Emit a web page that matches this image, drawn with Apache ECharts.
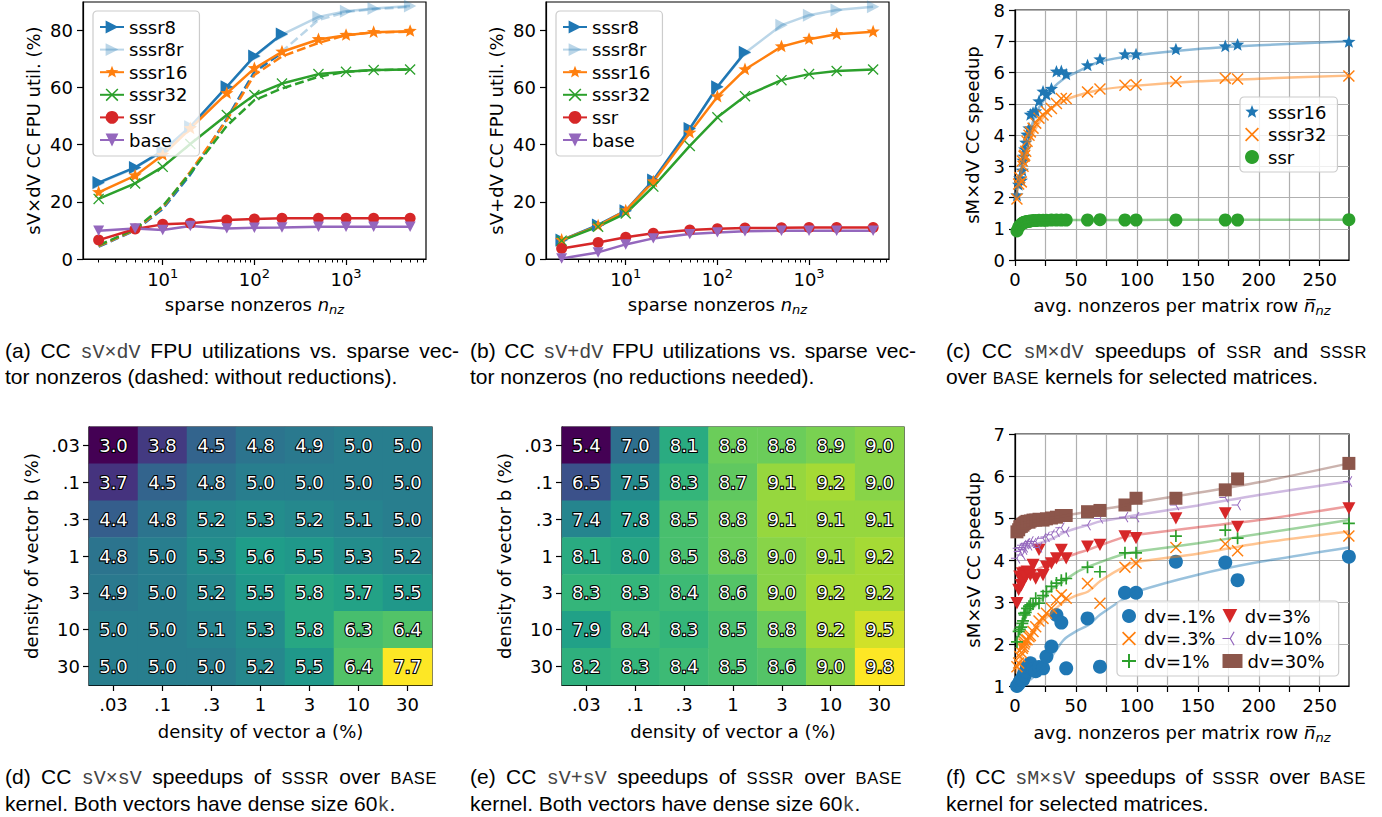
<!DOCTYPE html>
<html>
<head>
<meta charset="utf-8">
<script src="https://cdn.jsdelivr.net/npm/echarts@6/dist/echarts.min.js"></script>
<style>
html,body{margin:0;padding:0;background:#fff;}
#chart{position:absolute;left:0;top:0;width:1382px;height:817px;}
.cap{position:absolute;font-family:'Liberation Sans',Arial,sans-serif;font-size:21px;color:#000;line-height:24px;}
.cap .l1{text-align:justify;text-align-last:justify;}
.cap .l2{white-space:nowrap;}
.tt{font-family:'Liberation Mono',monospace;color:#444;font-size:20px;}
.sc{font-size:16.5px;letter-spacing:0.6px;}
</style>
</head>
<body>
<div id="chart"></div>

<div class="cap" style="left:5px;top:339px;width:454px;">
  <div class="l1">(a) CC <span class="tt">sV×dV</span> FPU utilizations vs. sparse vec-</div>
  <div class="l2">tor nonzeros (dashed: without reductions).</div>
</div>
<div class="cap" style="left:470px;top:339px;width:446px;">
  <div class="l1">(b) CC <span class="tt">sV+dV</span> FPU utilizations vs. sparse vec-</div>
  <div class="l2">tor nonzeros (no reductions needed).</div>
</div>
<div class="cap" style="left:946px;top:339px;width:421px;">
  <div class="l1">(c) CC <span class="tt">sM×dV</span> speedups of <span class="sc">SSR</span> and <span class="sc">SSSR</span></div>
  <div class="l2">over <span class="sc">BASE</span> kernels for selected matrices.</div>
</div>
<div class="cap" style="left:5px;top:764px;width:432px;line-height:25px;">
  <div class="l1">(d) CC <span class="tt">sV×sV</span> speedups of <span class="sc">SSSR</span> over <span class="sc">BASE</span></div>
  <div class="l2">kernel. Both vectors have dense size 60<span class="tt">k</span>.</div>
</div>
<div class="cap" style="left:470px;top:764px;width:432px;line-height:25px;">
  <div class="l1">(e) CC <span class="tt">sV+sV</span> speedups of <span class="sc">SSSR</span> over <span class="sc">BASE</span></div>
  <div class="l2">kernel. Both vectors have dense size 60<span class="tt">k</span>.</div>
</div>
<div class="cap" style="left:946px;top:764px;width:420px;line-height:25px;">
  <div class="l1">(f) CC <span class="tt">sM×sV</span> speedups of <span class="sc">SSSR</span> over <span class="sc">BASE</span></div>
  <div class="l2">kernel for selected matrices.</div>
</div>

<script>
// ---------------- DATA ----------------
// (a)/(b): sparse nonzeros (x)
const nnz = [2, 5, 10, 20, 50, 100, 200, 500, 1000, 2000, 5000];
// (a) sV x dV FPU utilization (%)
const a_sssr8  = [26.7, 32.0, 37.8, 46.2, 60.2, 70.9, 78.6];
const a_sssr8r = [26.5, 31.8, 37.6, 46.4, 60.0, 70.7, 78.4, 84.6, 86.6, 87.5, 88.4];
const a_sssr16 = [23.3, 29.1, 36.3, 45.6, 57.9, 66.6, 72.4, 76.7, 78.2, 79.2, 79.6];
const a_sssr32 = [21.0, 26.4, 32.2, 40.2, 50.3, 57.3, 61.3, 64.6, 65.4, 66.0, 66.2];
const a_ssr    = [6.6, 10.5, 12.1, 12.5, 13.6, 14.0, 14.2, 14.2, 14.2, 14.2, 14.2];
const a_base   = [9.9, 10.7, 10.1, 11.5, 10.7, 10.9, 11.0, 11.3, 11.3, 11.3, 11.3];
// (a) dashed: without reductions
const a_sssr8_nored  = [4.3, 10.0, 17.5, 29.5, 49.0, 65.4, 72.0];
const a_sssr8r_nored = [4.3, 10.0, 17.5, 29.5, 49.0, 65.4, 72.5, 83.5, 86.3, 87.3, 88.1];
const a_sssr16_nored = [4.5, 10.2, 18.0, 30.5, 48.5, 64.3, 70.8, 75.5, 78.2, 79.2, 79.4];
const a_sssr32_nored = [4.8, 10.4, 18.5, 30.0, 46.5, 55.5, 59.6, 63.7, 65.4, 66.0, 66.2];
// (b) sV + dV FPU utilization (%)
const b_sssr8  = [6.6, 11.9, 16.9, 27.6, 45.6, 60.2, 72.2];
const b_sssr8r = [6.5, 11.8, 16.8, 27.4, 45.4, 60.0, 72.0, 81.7, 85.2, 87.0, 88.1];
const b_sssr16 = [6.6, 11.6, 16.9, 27.0, 44.1, 56.7, 66.2, 74.2, 76.8, 78.5, 79.4];
const b_sssr32 = [6.4, 11.3, 15.9, 25.3, 39.5, 49.5, 56.9, 62.5, 64.6, 65.7, 66.2];
const b_ssr    = [3.7, 5.8, 7.6, 9.0, 10.1, 10.6, 10.8, 10.9, 11.0, 11.0, 11.0];
const b_base   = [0.2, 2.3, 5.1, 7.2, 8.7, 9.3, 9.7, 9.9, 9.9, 9.9, 9.9];
// log-axis tick values
const logMajor = [10, 100, 1000];
const logMinor = [2,3,4,5,6,7,8,9,20,30,40,50,60,70,80,90,200,300,400,500,600,700,800,900,2000,3000,4000,5000,6000,7000];

// (c)/(f): avg nonzeros per matrix row of selected matrices
const mtxNnz = [1.6, 3, 3.9, 5.2, 6, 6.6, 7.4, 8, 8.8, 9.9, 11.5, 12.6, 14.8, 17, 19.7, 23, 25.8, 29.9, 34, 38, 42, 59.5, 69.7, 90.2, 99.3, 132, 172.5, 182.6, 273.9];
// (c) sM x dV speedup
const c_sssr16 = [2.06, 2.4, 2.6, 2.53, 2.85, 3.17, 3.3, 3.53, 3.75, 4.0, 4.2, 4.64, 4.7, 4.75, 5.07, 5.38, 5.28, 5.47, 6.02, 6.03, 5.93, 6.22, 6.41, 6.57, 6.57, 6.73, 6.83, 6.88, 6.97];
const c_sssr32 = [1.95, 2.43, 2.64, 2.5, 3.17, 3.0, 3.32, 3.35, 3.48, 3.8, 3.99, 4.1, 4.22, 4.38, 4.54, 4.64, 4.75, 4.85, 5.01, 5.17, 5.17, 5.38, 5.47, 5.59, 5.61, 5.71, 5.82, 5.79, 5.89];
const c_ssr    = [0.93, 1.05, 1.1, 1.15, 1.17, 1.19, 1.2, 1.21, 1.22, 1.23, 1.24, 1.25, 1.26, 1.26, 1.27, 1.27, 1.27, 1.28, 1.28, 1.28, 1.28, 1.28, 1.29, 1.28, 1.28, 1.28, 1.28, 1.28, 1.29];
// (c) fitted trend lines
const cFitX    = [0.5, 2, 5, 10, 15, 20, 30, 40, 50, 70, 100, 150, 200, 274];
const c_fit16  = [2.0, 2.3, 2.9, 3.8, 4.45, 4.9, 5.45, 5.8, 6.0, 6.35, 6.55, 6.75, 6.87, 7.0];
const c_fit32  = [1.9, 2.25, 2.8, 3.55, 4.05, 4.4, 4.85, 5.1, 5.25, 5.45, 5.58, 5.72, 5.8, 5.9];
const c_fitssr = [0.9, 1.05, 1.15, 1.22, 1.25, 1.27, 1.28, 1.28, 1.28, 1.28, 1.28, 1.29, 1.29, 1.29];

// (d)/(e) heatmaps: rows = density of vector b, cols = density of vector a
const densLabels = ['.03', '.1', '.3', '1', '3', '10', '30'];
const d_vals = [
  [3.0, 3.8, 4.5, 4.8, 4.9, 5.0, 5.0],
  [3.7, 4.5, 4.8, 5.0, 5.0, 5.0, 5.0],
  [4.4, 4.8, 5.2, 5.3, 5.2, 5.1, 5.0],
  [4.8, 5.0, 5.3, 5.6, 5.5, 5.3, 5.2],
  [4.9, 5.0, 5.2, 5.5, 5.8, 5.7, 5.5],
  [5.0, 5.0, 5.1, 5.3, 5.8, 6.3, 6.4],
  [5.0, 5.0, 5.0, 5.2, 5.5, 6.4, 7.7]
];
const e_vals = [
  [5.4, 7.0, 8.1, 8.8, 8.8, 8.9, 9.0],
  [6.5, 7.5, 8.3, 8.7, 9.1, 9.2, 9.0],
  [7.4, 7.8, 8.5, 8.8, 9.1, 9.1, 9.1],
  [8.1, 8.0, 8.5, 8.8, 9.0, 9.1, 9.2],
  [8.3, 8.3, 8.4, 8.6, 9.0, 9.2, 9.2],
  [7.9, 8.4, 8.3, 8.5, 8.8, 9.2, 9.5],
  [8.2, 8.3, 8.4, 8.5, 8.6, 9.0, 9.8]
];

// (f) sM x sV speedup, per dense-vector density
const f_d01 = [1.0, 1.05, 1.1, 1.14, 1.2, 1.15, 1.3, 1.25, 1.35, 1.45, 1.5, 1.54, 1.4, 1.35, 1.45, 1.42, 1.7, 1.94, 2.69, 2.51, 1.42, 2.61, 1.46, 3.22, 3.22, 3.96, 3.94, 3.52, 4.08];
const f_d03 = [1.46, 1.55, 1.7, 1.8, 1.9, 1.94, 2.0, 2.05, 2.1, 2.1, 2.17, 2.2, 2.3, 2.41, 2.55, 2.61, 2.73, 2.85, 3.05, 3.17, 3.09, 3.44, 2.97, 3.83, 3.92, 4.3, 4.38, 4.22, 4.57];
const f_d1  = [2.05, 2.3, 2.35, 2.4, 2.49, 2.55, 2.73, 2.69, 2.75, 2.85, 2.9, 2.93, 2.95, 3.09, 2.97, 3.15, 3.25, 3.37, 3.45, 3.52, 3.56, 3.83, 3.72, 4.17, 4.17, 4.57, 4.71, 4.52, 4.87];
const f_d3  = [2.97, 3.29, 3.6, 3.4, 3.68, 3.5, 3.64, 3.7, 3.6, 3.72, 3.7, 3.64, 3.88, 3.56, 4.24, 3.64, 3.84, 3.92, 4.04, 4.24, 4.04, 4.32, 4.36, 4.56, 4.52, 4.99, 5.11, 4.79, 5.23];
const f_d10 = [4.04, 4.28, 4.2, 4.3, 4.12, 4.35, 4.25, 4.3, 4.38, 4.4, 4.35, 4.44, 4.4, 4.44, 4.3, 4.52, 4.55, 4.6, 4.67, 4.77, 4.67, 4.83, 4.99, 5.02, 5.02, 5.31, 5.49, 5.31, 5.87];
const f_d30 = [4.67, 4.72, 4.79, 4.8, 4.85, 4.83, 4.87, 4.88, 4.9, 4.92, 4.9, 4.93, 4.95, 4.95, 4.97, 4.95, 4.98, 5.0, 5.02, 5.06, 5.06, 5.15, 5.18, 5.31, 5.47, 5.47, 5.67, 5.93, 6.3];
// (f) fitted trend lines
const fFitX    = [0, 10, 20, 30, 40, 50, 60, 70, 90, 100, 150, 200, 274];
const f_fit01  = [1.0, 1.1, 1.35, 1.7, 2.1, 2.3, 2.45, 2.7, 3.09, 3.25, 3.65, 3.95, 4.3];
const f_fit03  = [1.3, 2.0, 2.45, 2.75, 3.0, 3.15, 3.25, 3.5, 3.85, 3.95, 4.15, 4.4, 4.68];
const f_fit1   = [2.05, 2.7, 3.0, 3.3, 3.5, 3.7, 3.84, 3.95, 4.15, 4.2, 4.4, 4.62, 4.95];
const f_fit3   = [3.3, 3.6, 3.8, 3.92, 4.04, 4.15, 4.24, 4.35, 4.55, 4.6, 4.78, 4.95, 5.28];
const f_fit10  = [4.2, 4.3, 4.4, 4.5, 4.65, 4.75, 4.83, 4.92, 5.02, 5.07, 5.3, 5.55, 5.87];
const f_fit30  = [4.85, 4.9, 4.95, 5.0, 5.05, 5.1, 5.15, 5.2, 5.3, 5.37, 5.6, 5.85, 6.3];

// ---------------- STYLE ----------------
const FONT = 'DejaVu Sans';
const FS = 18;
const COL = {blue:'#1f77b4', lblue:'rgba(31,119,180,0.3)', orange:'#ff7f0e', green:'#2ca02c',
             red:'#d62728', purple:'#9467bd', brown:'#8c564b'};
const VIRIDIS = ['#440154','#482878','#3e4989','#31688e','#26828e','#1f9e89','#35b779','#6ece58','#b5de2b','#fde725'];

function starPath() {
  const p = [];
  for (let i = 0; i < 10; i++) {
    const r = i % 2 ? 0.42 : 1, a = -Math.PI / 2 + i * Math.PI / 5;
    p.push((r * Math.cos(a)).toFixed(3) + ',' + (r * Math.sin(a)).toFixed(3));
  }
  return 'path://M' + p.join(' L') + ' Z M0,1 L0,1 Z';
}
const SYM = {
  right: 'path://M-0.9,-1 L1,0 L-0.9,1 Z',
  down: 'path://M-1,-0.9 L1,-0.9 L0,1 Z',
  star: starPath(),
  x: 'path://M-1,-0.83 L-0.83,-1 L0,-0.17 L0.83,-1 L1,-0.83 L0.17,0 L1,0.83 L0.83,1 L0,0.17 L-0.83,1 L-1,0.83 L-0.17,0 Z',
  plus: 'path://M-0.14,-1 L0.14,-1 L0.14,-0.14 L1,-0.14 L1,0.14 L0.14,0.14 L0.14,1 L-0.14,1 L-0.14,0.14 L-1,0.14 L-1,-0.14 L-0.14,-0.14 Z',
  triLeft: 'path://M0,-0.08 L-1,-0.08 L-1,0.08 L0,0.08 Z M0.069,0.04 L0.569,-0.826 L0.431,-0.906 L-0.069,-0.04 Z M-0.069,0.04 L0.431,0.906 L0.569,0.826 L0.069,-0.04 Z M1,0 L1,0 Z'
};

const AX_LINE = {show:true, onZero:false, lineStyle:{color:'#000', width:1.2}};
const TICK = {show:true, inside:false, length:6, lineStyle:{color:'#000', width:1.2}};
const LBL = {color:'#000', fontFamily:FONT, fontSize:FS};
const NAME_TS = {color:'#000', fontFamily:FONT, fontSize:FS};
const RICH_NAME = {
  t:{fontFamily:FONT, fontSize:FS, color:'#000', lineHeight:24, verticalAlign:'middle'},
  i:{fontFamily:FONT, fontSize:FS, color:'#000', fontStyle:'italic', lineHeight:24, verticalAlign:'middle'},
  s:{fontFamily:FONT, fontSize:13, color:'#000', fontStyle:'italic', lineHeight:12, verticalAlign:'bottom'}
};

function logX(gi) {
  return {
    gridIndex:gi, type:'log', logBase:10, min:1.35, max:7450, position:'bottom',
    axisLine:AX_LINE, axisTick:Object.assign({}, TICK, {customValues:logMajor}),
    axisLabel:Object.assign({}, LBL, {margin:8, customValues:logMajor,
      formatter: v => { const l = Math.log10(v), e = Math.round(l); return Math.abs(l - e) < 1e-6 ? '{b|10}{sup|' + e + '}' : ''; },
      rich:{b:{fontFamily:FONT, fontSize:FS, color:'#000', lineHeight:24, verticalAlign:'middle'},
            sup:{fontFamily:FONT, fontSize:13, color:'#000', lineHeight:12, verticalAlign:'top'}}}),
    splitLine:{show:false},
    name:'{t|sparse nonzeros }{i|n}{s|nz}', nameLocation:'middle', nameGap:33,
    nameTextStyle:Object.assign({}, NAME_TS, {rich:RICH_NAME})
  };
}
function logXMinor(gi) {
  return {
    gridIndex:gi, type:'log', logBase:10, min:1.35, max:7450, position:'bottom',
    axisLine:{show:false}, axisLabel:{show:false}, splitLine:{show:false},
    axisTick:{show:true, length:3.5, lineStyle:{color:'#000', width:1}, customValues:logMinor}
  };
}
function valY(gi, min, max, interval, name, gap, grid) {
  const vals = [];
  for (let v = min; v <= max + 1e-9; v += interval) vals.push(v);
  return {
    gridIndex:gi, type:'value', min, max, interval, position:'left',
    axisLine:AX_LINE, axisTick:Object.assign({}, TICK, {customValues:vals}),
    axisLabel:Object.assign({}, LBL, {margin:10, lineHeight:14, customValues:vals,
      formatter: v => (Math.abs((v - min) / interval - Math.round((v - min) / interval)) < 1e-6 ? String(v) : '')}),
    splitLine: grid ? {show:true, lineStyle:{color:'#b0b0b0', width:1.2}} : {show:false},
    name, nameLocation:'middle', nameGap:gap, nameTextStyle:NAME_TS
  };
}
function mtxX(gi, gap) {
  const ticks = [0,25,50,75,100,125,150,175,200,225,250];
  return {
    gridIndex:gi, type:'value', min:0, max:274, interval:25, position:'bottom',
    axisLine:AX_LINE, axisTick:Object.assign({}, TICK, {customValues:ticks}),
    axisLabel:Object.assign({}, LBL, {margin:10, customValues:[0,50,100,150,200,250],
      formatter: v => (v % 50 === 0 ? String(v) : '')}),
    splitLine:{show:true, lineStyle:{color:'#b0b0b0', width:1.2}},
    name:'{t|avg. nonzeros per matrix row }{i|n\u0305}{s|nz}', nameLocation:'middle', nameGap:gap,
    nameTextStyle:Object.assign({}, NAME_TS, {rich:RICH_NAME})
  };
}
function catX(gi, name) {
  return {
    gridIndex:gi, type:'category', data:densLabels, position:'bottom',
    axisLine:AX_LINE, axisTick:Object.assign({}, TICK, {alignWithLabel:true}),
    axisLabel:Object.assign({}, LBL, {margin:10, interval:0}), splitLine:{show:false}, splitArea:{show:false},
    name, nameLocation:'middle', nameGap:37, nameTextStyle:NAME_TS
  };
}
function catY(gi, name, gap) {
  return {
    gridIndex:gi, type:'category', data:densLabels, inverse:true, position:'left',
    axisLine:AX_LINE, axisTick:Object.assign({}, TICK, {alignWithLabel:true}),
    axisLabel:Object.assign({}, LBL, {margin:9, interval:0}), splitLine:{show:false}, splitArea:{show:false},
    name, nameLocation:'middle', nameGap:gap, nameTextStyle:NAME_TS
  };
}

// ---------------- SERIES ----------------
const series = [];
function line(name, gi, xs, ys, color, symbol, size, dashed, smooth) {
  series.push({
    type:'line', name, xAxisIndex:gi, yAxisIndex:gi,
    data: ys.map((y, i) => [xs[i], y]),
    symbol: symbol || 'none', showSymbol: !!symbol, symbolSize: size || 11, symbolKeepAspect:true,
    smooth: smooth || false,
    lineStyle:{color, width:2.5, type: dashed ? [9, 4] : 'solid'},
    itemStyle:{color, borderWidth:0},
    emphasis:{disabled:true}, silent:true, animation:false, clip:true
  });
  return series.length - 1;
}
function scatter(name, gi, xs, ys, color, symbol, size) {
  series.push({
    type:'scatter', name, xAxisIndex:gi, yAxisIndex:gi,
    data: ys.map((y, i) => [xs[i], y]),
    symbol, symbolSize:size, symbolKeepAspect:true,
    itemStyle:{color, opacity:1, borderWidth:0},
    emphasis:{disabled:true}, silent:true, animation:false, clip:true
  });
  return series.length - 1;
}
function heatmap(gi, vals) {
  const data = [];
  vals.forEach((row, j) => row.forEach((v, i) => data.push([i, j, v])));
  series.push({
    type:'heatmap', xAxisIndex:gi, yAxisIndex:gi, data,
    label:{show:true, formatter: p => p.value[2].toFixed(1), color:'#fff', fontFamily:FONT, fontSize:FS,
           textBorderColor:'#000', textBorderWidth:2.2},
    itemStyle:{borderWidth:0}, emphasis:{disabled:true}, silent:true, animation:false
  });
  return series.length - 1;
}

// (a)
line('a:sssr8r nored', 0, nnz, a_sssr8r_nored, COL.lblue, null, 0, true);
line('a:sssr8 nored', 0, nnz, a_sssr8_nored, COL.blue, null, 0, true);
line('a:sssr16 nored', 0, nnz, a_sssr16_nored, COL.orange, null, 0, true);
line('a:sssr32 nored', 0, nnz, a_sssr32_nored, COL.green, null, 0, true);
line('a:sssr8r', 0, nnz, a_sssr8r, COL.lblue, SYM.right, 13);
line('a:sssr8', 0, nnz, a_sssr8, COL.blue, SYM.right, 13);
line('a:sssr16', 0, nnz, a_sssr16, COL.orange, SYM.star, 14);
line('a:sssr32', 0, nnz, a_sssr32, COL.green, SYM.x, 11);
line('a:ssr', 0, nnz, a_ssr, COL.red, 'circle', 11);
line('a:base', 0, nnz, a_base, COL.purple, SYM.down, 11);
// (b)
line('b:sssr8r', 1, nnz, b_sssr8r, COL.lblue, SYM.right, 13);
line('b:sssr8', 1, nnz, b_sssr8, COL.blue, SYM.right, 13);
line('b:sssr16', 1, nnz, b_sssr16, COL.orange, SYM.star, 14);
line('b:sssr32', 1, nnz, b_sssr32, COL.green, SYM.x, 11);
line('b:ssr', 1, nnz, b_ssr, COL.red, 'circle', 11);
line('b:base', 1, nnz, b_base, COL.purple, SYM.down, 11);
// (c)
line('c:fit16', 2, cFitX, c_fit16, 'rgba(31,119,180,0.5)', null, 0, false, 0.3);
line('c:fit32', 2, cFitX, c_fit32, 'rgba(255,127,14,0.5)', null, 0, false, 0.3);
line('c:fitssr', 2, cFitX, c_fitssr, 'rgba(44,160,44,0.5)', null, 0, false, 0.3);
scatter('c:sssr16', 2, mtxNnz, c_sssr16, COL.blue, SYM.star, 14);
scatter('c:sssr32', 2, mtxNnz, c_sssr32, COL.orange, SYM.x, 12);
scatter('c:ssr', 2, mtxNnz, c_ssr, COL.green, 'circle', 13);
// (d), (e)
const hD = heatmap(3, d_vals);
const hE = heatmap(4, e_vals);
// (f)
line('f:fit01', 5, fFitX, f_fit01, 'rgba(31,119,180,0.45)', null, 0, false, 0.3);
line('f:fit03', 5, fFitX, f_fit03, 'rgba(255,127,14,0.45)', null, 0, false, 0.3);
line('f:fit1', 5, fFitX, f_fit1, 'rgba(44,160,44,0.45)', null, 0, false, 0.3);
line('f:fit3', 5, fFitX, f_fit3, 'rgba(214,39,40,0.45)', null, 0, false, 0.3);
line('f:fit10', 5, fFitX, f_fit10, 'rgba(148,103,189,0.45)', null, 0, false, 0.3);
line('f:fit30', 5, fFitX, f_fit30, 'rgba(140,86,75,0.45)', null, 0, false, 0.3);
scatter('f:dv=.1%', 5, mtxNnz, f_d01, COL.blue, 'circle', 14);
scatter('f:dv=.3%', 5, mtxNnz, f_d03, COL.orange, SYM.x, 12);
scatter('f:dv=1%', 5, mtxNnz, f_d1, COL.green, SYM.plus, 12);
scatter('f:dv=3%', 5, mtxNnz, f_d3, COL.red, SYM.down, 13);
scatter('f:dv=10%', 5, mtxNnz, f_d10, COL.purple, SYM.triLeft, 12);
scatter('f:dv=30%', 5, mtxNnz, f_d30, COL.brown, 'rect', 13);

const flat = a => [].concat(...a);

// ---------------- LEGENDS ----------------
const stripPrefix = n => n.replace(/^[a-z]:/, '');
const LEG_TXT = {color:'#000', fontFamily:FONT, fontSize:FS, lineHeight:18};
const LEG_BOX = {backgroundColor:'rgba(255,255,255,0.8)', borderColor:'#cccccc', borderWidth:1.2,
                 borderRadius:4, selectedMode:false, formatter:stripPrefix, z:10, textStyle:LEG_TXT};
const abNames = p => ['sssr8','sssr8r','sssr16','sssr32','ssr','base'].map(n => p + ':' + n);

const option = {
  backgroundColor:'#fff',
  animation:false,
  grid:[
    {left:83, top:2, width:343, height:257},
    {left:546, top:2, width:343, height:257},
    {left:1015, top:10, width:334, height:250},
    {left:89, top:427, width:343, height:258},
    {left:562, top:427, width:342, height:258},
    {left:1015, top:434, width:334, height:252}
  ].map(g => Object.assign({show:true, borderColor:'#000', borderWidth:1.2, backgroundColor:'transparent',
                             containLabel:false, outerBoundsMode:'none'}, g)),
  xAxis:[
    logX(0), logX(1), mtxX(2, 33),
    catX(3, 'density of vector a (%)'), catX(4, 'density of vector a (%)'),
    mtxX(5, 34),
    logXMinor(0), logXMinor(1)
  ],
  yAxis:[
    valY(0, 0, 89.8, 20, 'sV×dV CC FPU util. (%)', 41),
    valY(1, 0, 89.8, 20, 'sV+dV CC FPU util. (%)', 41),
    valY(2, 0, 8, 1, 'sM×dV CC speedup', 34, true),
    catY(3, 'density of vector b (%)', 49),
    catY(4, 'density of vector b (%)', 49),
    valY(5, 1, 7, 1, 'sM×sV CC speedup', 33, true)
  ],
  visualMap:[
    {show:false, type:'continuous', seriesIndex:hD, dimension:2,
     min:Math.min(...flat(d_vals)), max:Math.max(...flat(d_vals)), inRange:{color:VIRIDIS}},
    {show:false, type:'continuous', seriesIndex:hE, dimension:2,
     min:Math.min(...flat(e_vals)), max:Math.max(...flat(e_vals)), inRange:{color:VIRIDIS}}
  ],
  legend:[
    Object.assign({}, LEG_BOX, {data:abNames('a'), orient:'vertical', left:93, top:11,
      itemWidth:24, itemHeight:16, itemGap:4.6, padding:[7,12,7,6]}),
    Object.assign({}, LEG_BOX, {data:abNames('b'), orient:'vertical', left:556, top:11,
      itemWidth:24, itemHeight:16, itemGap:4.6, padding:[7,12,7,6]}),
    Object.assign({}, LEG_BOX, {data:['c:sssr16','c:sssr32','c:ssr'], orient:'vertical', left:1240, top:97,
      itemWidth:22, itemHeight:14, itemGap:4.5, padding:[6,11,6,5]}),
    Object.assign({}, LEG_BOX, {data:['f:dv=.1%','f:dv=3%','f:dv=.3%','f:dv=10%','f:dv=1%','f:dv=30%'],
      orient:'horizontal', left:1117, top:601, width:212,
      itemWidth:20, itemHeight:14, itemGap:4.5, padding:[6,14,6,5],
      textStyle:Object.assign({}, LEG_TXT, {width:74, overflow:'none'})})
  ],
  series
};

const chart = echarts.init(document.getElementById('chart'), null, {renderer:'svg', width:1382, height:817});
chart.setOption(option);
</script>
</body>
</html>
